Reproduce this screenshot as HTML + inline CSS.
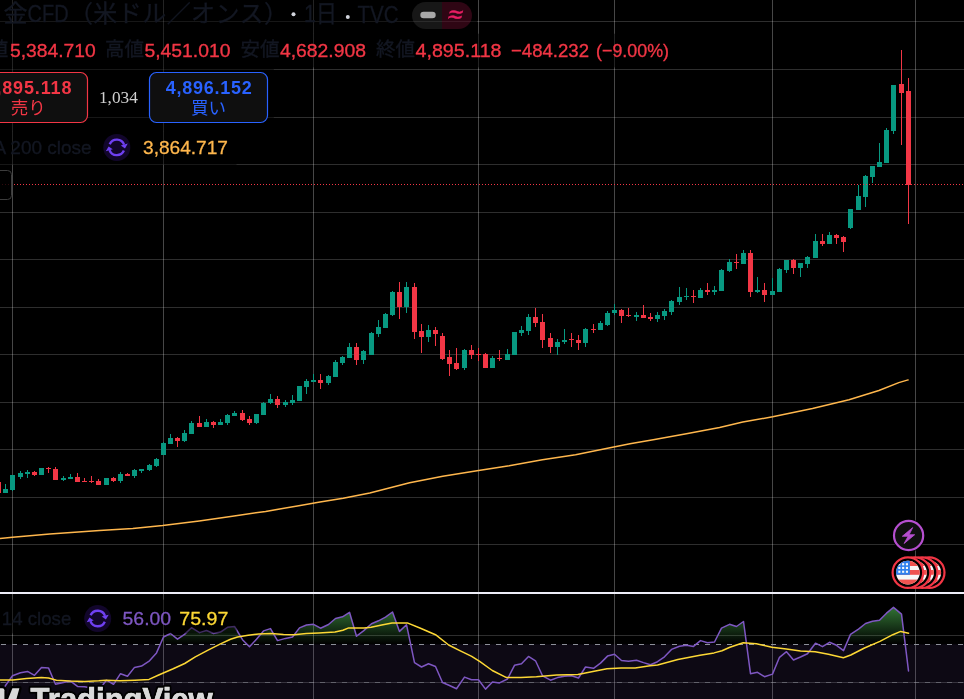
<!DOCTYPE html>
<html lang="ja"><head><meta charset="utf-8"><title>金CFD（米ドル／オンス） · 1日 · TVC — TradingView</title>
<style>
html,body{margin:0;padding:0;background:#000;}
body{width:964px;height:699px;overflow:hidden;position:relative;font-family:"Liberation Sans","Noto Sans CJK JP",sans-serif;}
svg{position:absolute;left:0;top:0;display:block;will-change:transform}
text{font-family:"Liberation Sans","Noto Sans CJK JP",sans-serif}
.cr{shape-rendering:crispEdges}
.lbl{fill:#131722}
.neg{fill:#f23645;stroke:#f23645;stroke-width:0.35}
.lbl{stroke:#131722;stroke-width:0.35}
</style></head><body>
<svg width="964" height="699" viewBox="0 0 964 699">
<defs>
<linearGradient id="ob" gradientUnits="userSpaceOnUse" x1="0" y1="587.7" x2="0" y2="644.3"><stop offset="0" stop-color="#4caf50" stop-opacity="1"/><stop offset="1" stop-color="#4caf50" stop-opacity="0"/></linearGradient>
<clipPath id="above70"><rect x="0" y="594" width="964" height="50.3"/></clipPath>
<clipPath id="rsipane"><rect x="0" y="594" width="964" height="105"/></clipPath>
<clipPath id="flagclip"><circle cx="0" cy="0" r="11.9"/></clipPath>
</defs>
<rect width="964" height="699" fill="#000"/>
<g class="cr">
<rect x="12" y="0" width="1" height="592" fill="rgba(255,255,255,0.28)"/>
<rect x="12" y="594" width="1" height="105" fill="rgba(255,255,255,0.28)"/>
<rect x="163" y="0" width="1" height="592" fill="rgba(255,255,255,0.28)"/>
<rect x="163" y="594" width="1" height="105" fill="rgba(255,255,255,0.28)"/>
<rect x="313" y="0" width="1" height="592" fill="rgba(255,255,255,0.28)"/>
<rect x="313" y="594" width="1" height="105" fill="rgba(255,255,255,0.28)"/>
<rect x="478" y="0" width="1" height="592" fill="rgba(255,255,255,0.28)"/>
<rect x="478" y="594" width="1" height="105" fill="rgba(255,255,255,0.28)"/>
<rect x="614" y="0" width="1" height="592" fill="rgba(255,255,255,0.28)"/>
<rect x="614" y="594" width="1" height="105" fill="rgba(255,255,255,0.28)"/>
<rect x="772" y="0" width="1" height="592" fill="rgba(255,255,255,0.28)"/>
<rect x="772" y="594" width="1" height="105" fill="rgba(255,255,255,0.28)"/>
<rect x="915" y="0" width="1" height="592" fill="rgba(255,255,255,0.28)"/>
<rect x="915" y="594" width="1" height="105" fill="rgba(255,255,255,0.28)"/>
<rect x="0" y="21" width="964" height="1" fill="rgba(255,255,255,0.18)"/>
<rect x="0" y="69" width="964" height="1" fill="rgba(255,255,255,0.18)"/>
<rect x="0" y="117" width="964" height="1" fill="rgba(255,255,255,0.18)"/>
<rect x="0" y="164" width="964" height="1" fill="rgba(255,255,255,0.18)"/>
<rect x="0" y="212" width="964" height="1" fill="rgba(255,255,255,0.18)"/>
<rect x="0" y="259" width="964" height="1" fill="rgba(255,255,255,0.18)"/>
<rect x="0" y="307" width="964" height="1" fill="rgba(255,255,255,0.18)"/>
<rect x="0" y="354" width="964" height="1" fill="rgba(255,255,255,0.18)"/>
<rect x="0" y="402" width="964" height="1" fill="rgba(255,255,255,0.18)"/>
<rect x="0" y="449" width="964" height="1" fill="rgba(255,255,255,0.18)"/>
<rect x="0" y="497" width="964" height="1" fill="rgba(255,255,255,0.18)"/>
<rect x="0" y="544" width="964" height="1" fill="rgba(255,255,255,0.18)"/>
<rect x="0" y="635" width="964" height="1" fill="rgba(255,255,255,0.18)"/>
<rect x="0" y="682" width="964" height="1" fill="rgba(255,255,255,0.18)"/>
</g>
<rect x="0" y="644.3" width="964" height="55" fill="rgba(126,87,194,0.1)"/>
<g clip-path="url(#above70)"><polygon points="-1.5,644.3 -1.5,700 5.5,685.5 12.5,675.8 20.5,672.7 27.5,671.4 34.5,675.3 41.5,667.4 48.5,667.9 55.5,684.3 63.5,682.5 70.5,681.1 77.5,686.4 84.5,686.8 91.5,688 98.5,690 102.3,685.5 106.5,680.2 113.5,684.3 120.5,673.7 127.5,676.2 134.5,667.4 141.5,666.1 149.5,660.8 156.5,652.9 163.5,637 170.5,633.5 177.5,639.2 184.5,634.4 191.5,627.7 199.5,632.6 206.5,630.5 213.5,633.5 220.5,632.1 227.5,627.3 234.5,626.5 242.5,639.7 249.5,646.7 256.5,639.2 263.5,630.9 270.5,628.6 277.5,640.6 285.5,638.4 292.5,637 299.5,627.9 306.5,625 313.5,624.3 320.5,628.2 328.5,624.5 335.5,618.5 342.5,616.8 349.5,612.3 356.5,636.2 363.5,630.9 371.5,623.8 378.5,620.8 385.5,617.1 392.5,612 399.5,631.4 406.5,624.7 414.5,662.6 421.5,667 428.5,663.8 435.5,666.5 442.5,682.5 449.5,685.5 456.5,688.7 464.5,677.1 471.5,679.7 478.5,679.7 485.5,689.1 492.5,682 499.5,682.9 507.5,679 514.5,665.3 521.5,663.8 528.5,656.4 535.5,660.8 542.5,675.8 550.5,680.2 557.5,677.6 564.5,676.2 571.5,675.8 578.5,678 585.5,667 593.5,668.3 600.5,663.1 607.5,656.1 614.5,654.3 621.5,660.5 628.5,661.2 636.5,660.3 643.5,662.6 650.5,664.7 657.5,661.7 664.5,656.8 671.5,649.4 679.5,646.2 686.5,645.3 693.5,646.4 700.5,640.6 707.5,642.7 714.5,642 721.5,628.2 729.5,624.3 736.5,626.5 743.5,621.5 750.5,673.7 757.5,672.3 764.5,676.7 772.5,674.1 779.5,657.3 786.5,651.7 793.5,660 800.5,657 807.5,653.8 815.5,643.2 822.5,646.7 829.5,642.3 836.5,645.3 843.5,650.6 850.5,634.4 858.5,629.1 865.5,623.5 872.5,621.2 879.5,620.3 886.5,613.2 893.5,607.4 901.5,614.1 908.5,670.9 908.5,644.3" fill="url(#ob)"/></g>
<polyline points="0,538.6 12.6,537.3 49.8,533.9 99.6,530.6 132.8,528.6 162.7,525.6 199.2,521 232.4,516.3 265.6,511.4 298.8,505.7 320,502.1 343.2,498.3 369.8,492.9 409.6,482.7 442.8,476.3 478.6,470.4 509.2,465.7 542.4,459.8 575.6,454.8 608.8,448.1 630,443.8 653.2,439.7 686.4,433.7 719.6,427.4 742.8,422.1 772.7,416.8 812.5,408.5 849,399.8 878.9,390.5 898.8,382.6 908.1,379.9" fill="none" stroke="#ffb74d" stroke-width="1.5" stroke-linejoin="round" stroke-linecap="round"/>
<g class="cr">
<rect x="-2" y="482" width="1" height="11" fill="#f23645"/>
<rect x="-4" y="482" width="5" height="11" fill="#f23645"/>
<rect x="5" y="484" width="1" height="9" fill="#089981"/>
<rect x="3" y="489" width="5" height="4" fill="#089981"/>
<rect x="12" y="475" width="1" height="16" fill="#089981"/>
<rect x="10" y="475" width="5" height="15" fill="#089981"/>
<rect x="20" y="471" width="1" height="8" fill="#089981"/>
<rect x="18" y="473" width="5" height="4" fill="#089981"/>
<rect x="27" y="470" width="1" height="8" fill="#089981"/>
<rect x="25" y="472" width="5" height="2" fill="#089981"/>
<rect x="34" y="471" width="1" height="5" fill="#f23645"/>
<rect x="32" y="472" width="5" height="3" fill="#f23645"/>
<rect x="41" y="468" width="1" height="7" fill="#089981"/>
<rect x="39" y="468" width="5" height="7" fill="#089981"/>
<rect x="48" y="467" width="1" height="6" fill="#f23645"/>
<rect x="46" y="468" width="5" height="1" fill="#f23645"/>
<rect x="55" y="467" width="1" height="13" fill="#f23645"/>
<rect x="53" y="469" width="5" height="11" fill="#f23645"/>
<rect x="63" y="476" width="1" height="5" fill="#089981"/>
<rect x="61" y="478" width="5" height="2" fill="#089981"/>
<rect x="70" y="474" width="1" height="5" fill="#089981"/>
<rect x="68" y="477" width="5" height="2" fill="#089981"/>
<rect x="77" y="473" width="1" height="9" fill="#f23645"/>
<rect x="75" y="477" width="5" height="5" fill="#f23645"/>
<rect x="84" y="478" width="1" height="4" fill="#f23645"/>
<rect x="82" y="481" width="5" height="1" fill="#f23645"/>
<rect x="91" y="476" width="1" height="7" fill="#f23645"/>
<rect x="89" y="481" width="5" height="1" fill="#f23645"/>
<rect x="98" y="479" width="1" height="6" fill="#f23645"/>
<rect x="96" y="481" width="5" height="4" fill="#f23645"/>
<rect x="106" y="478" width="1" height="7" fill="#089981"/>
<rect x="104" y="478" width="5" height="7" fill="#089981"/>
<rect x="113" y="477" width="1" height="5" fill="#f23645"/>
<rect x="111" y="478" width="5" height="3" fill="#f23645"/>
<rect x="120" y="472" width="1" height="11" fill="#089981"/>
<rect x="118" y="474" width="5" height="7" fill="#089981"/>
<rect x="127" y="473" width="1" height="3" fill="#f23645"/>
<rect x="125" y="474" width="5" height="2" fill="#f23645"/>
<rect x="134" y="469" width="1" height="9" fill="#089981"/>
<rect x="132" y="470" width="5" height="6" fill="#089981"/>
<rect x="141" y="469" width="1" height="4" fill="#089981"/>
<rect x="139" y="469" width="5" height="2" fill="#089981"/>
<rect x="149" y="464" width="1" height="7" fill="#089981"/>
<rect x="147" y="465" width="5" height="5" fill="#089981"/>
<rect x="156" y="458" width="1" height="9" fill="#089981"/>
<rect x="154" y="459" width="5" height="7" fill="#089981"/>
<rect x="163" y="442" width="1" height="13" fill="#089981"/>
<rect x="161" y="443" width="5" height="12" fill="#089981"/>
<rect x="170" y="434" width="1" height="10" fill="#089981"/>
<rect x="168" y="438" width="5" height="6" fill="#089981"/>
<rect x="177" y="437" width="1" height="10" fill="#f23645"/>
<rect x="175" y="438" width="5" height="3" fill="#f23645"/>
<rect x="184" y="430" width="1" height="12" fill="#089981"/>
<rect x="182" y="433" width="5" height="8" fill="#089981"/>
<rect x="191" y="421" width="1" height="13" fill="#089981"/>
<rect x="189" y="423" width="5" height="11" fill="#089981"/>
<rect x="199" y="416" width="1" height="11" fill="#f23645"/>
<rect x="197" y="423" width="5" height="4" fill="#f23645"/>
<rect x="206" y="419" width="1" height="8" fill="#089981"/>
<rect x="204" y="422" width="5" height="5" fill="#089981"/>
<rect x="213" y="421" width="1" height="7" fill="#f23645"/>
<rect x="211" y="422" width="5" height="3" fill="#f23645"/>
<rect x="220" y="419" width="1" height="6" fill="#089981"/>
<rect x="218" y="422" width="5" height="3" fill="#089981"/>
<rect x="227" y="414" width="1" height="11" fill="#089981"/>
<rect x="225" y="415" width="5" height="8" fill="#089981"/>
<rect x="234" y="411" width="1" height="5" fill="#089981"/>
<rect x="232" y="413" width="5" height="3" fill="#089981"/>
<rect x="242" y="410" width="1" height="11" fill="#f23645"/>
<rect x="240" y="413" width="5" height="7" fill="#f23645"/>
<rect x="249" y="416" width="1" height="9" fill="#f23645"/>
<rect x="247" y="419" width="5" height="4" fill="#f23645"/>
<rect x="256" y="414" width="1" height="10" fill="#089981"/>
<rect x="254" y="414" width="5" height="9" fill="#089981"/>
<rect x="263" y="402" width="1" height="13" fill="#089981"/>
<rect x="261" y="403" width="5" height="12" fill="#089981"/>
<rect x="270" y="394" width="1" height="10" fill="#089981"/>
<rect x="268" y="399" width="5" height="4" fill="#089981"/>
<rect x="277" y="396" width="1" height="12" fill="#f23645"/>
<rect x="275" y="399" width="5" height="6" fill="#f23645"/>
<rect x="285" y="400" width="1" height="7" fill="#089981"/>
<rect x="283" y="402" width="5" height="3" fill="#089981"/>
<rect x="292" y="395" width="1" height="10" fill="#089981"/>
<rect x="290" y="400" width="5" height="3" fill="#089981"/>
<rect x="299" y="386" width="1" height="15" fill="#089981"/>
<rect x="297" y="386" width="5" height="15" fill="#089981"/>
<rect x="306" y="379" width="1" height="15" fill="#089981"/>
<rect x="304" y="381" width="5" height="6" fill="#089981"/>
<rect x="313" y="374" width="1" height="8" fill="#089981"/>
<rect x="311" y="380" width="5" height="2" fill="#089981"/>
<rect x="320" y="374" width="1" height="15" fill="#f23645"/>
<rect x="318" y="380" width="5" height="3" fill="#f23645"/>
<rect x="328" y="375" width="1" height="10" fill="#089981"/>
<rect x="326" y="376" width="5" height="7" fill="#089981"/>
<rect x="335" y="360" width="1" height="17" fill="#089981"/>
<rect x="333" y="362" width="5" height="15" fill="#089981"/>
<rect x="342" y="356" width="1" height="9" fill="#089981"/>
<rect x="340" y="357" width="5" height="6" fill="#089981"/>
<rect x="349" y="343" width="1" height="15" fill="#089981"/>
<rect x="347" y="347" width="5" height="11" fill="#089981"/>
<rect x="356" y="343" width="1" height="22" fill="#f23645"/>
<rect x="354" y="347" width="5" height="13" fill="#f23645"/>
<rect x="363" y="350" width="1" height="14" fill="#089981"/>
<rect x="361" y="351" width="5" height="9" fill="#089981"/>
<rect x="371" y="332" width="1" height="23" fill="#089981"/>
<rect x="369" y="333" width="5" height="22" fill="#089981"/>
<rect x="378" y="320" width="1" height="17" fill="#089981"/>
<rect x="376" y="327" width="5" height="7" fill="#089981"/>
<rect x="385" y="313" width="1" height="15" fill="#089981"/>
<rect x="383" y="314" width="5" height="14" fill="#089981"/>
<rect x="392" y="291" width="1" height="25" fill="#089981"/>
<rect x="390" y="292" width="5" height="23" fill="#089981"/>
<rect x="399" y="282" width="1" height="37" fill="#f23645"/>
<rect x="397" y="292" width="5" height="15" fill="#f23645"/>
<rect x="406" y="282" width="1" height="31" fill="#089981"/>
<rect x="404" y="287" width="5" height="20" fill="#089981"/>
<rect x="414" y="283" width="1" height="56" fill="#f23645"/>
<rect x="412" y="287" width="5" height="45" fill="#f23645"/>
<rect x="421" y="324" width="1" height="29" fill="#f23645"/>
<rect x="419" y="331" width="5" height="6" fill="#f23645"/>
<rect x="428" y="325" width="1" height="17" fill="#089981"/>
<rect x="426" y="330" width="5" height="7" fill="#089981"/>
<rect x="435" y="327" width="1" height="19" fill="#f23645"/>
<rect x="433" y="330" width="5" height="4" fill="#f23645"/>
<rect x="442" y="333" width="1" height="27" fill="#f23645"/>
<rect x="440" y="336" width="5" height="23" fill="#f23645"/>
<rect x="449" y="350" width="1" height="26" fill="#f23645"/>
<rect x="447" y="357" width="5" height="7" fill="#f23645"/>
<rect x="456" y="348" width="1" height="22" fill="#f23645"/>
<rect x="454" y="363" width="5" height="6" fill="#f23645"/>
<rect x="464" y="349" width="1" height="21" fill="#089981"/>
<rect x="462" y="350" width="5" height="18" fill="#089981"/>
<rect x="471" y="345" width="1" height="14" fill="#f23645"/>
<rect x="469" y="350" width="5" height="5" fill="#f23645"/>
<rect x="478" y="348" width="1" height="13" fill="#f23645"/>
<rect x="476" y="354" width="5" height="1" fill="#f23645"/>
<rect x="485" y="353" width="1" height="15" fill="#f23645"/>
<rect x="483" y="354" width="5" height="14" fill="#f23645"/>
<rect x="492" y="356" width="1" height="12" fill="#089981"/>
<rect x="490" y="358" width="5" height="10" fill="#089981"/>
<rect x="499" y="350" width="1" height="11" fill="#f23645"/>
<rect x="497" y="358" width="5" height="1" fill="#f23645"/>
<rect x="507" y="349" width="1" height="11" fill="#089981"/>
<rect x="505" y="354" width="5" height="6" fill="#089981"/>
<rect x="514" y="332" width="1" height="23" fill="#089981"/>
<rect x="512" y="332" width="5" height="23" fill="#089981"/>
<rect x="521" y="326" width="1" height="10" fill="#089981"/>
<rect x="519" y="330" width="5" height="3" fill="#089981"/>
<rect x="528" y="314" width="1" height="21" fill="#089981"/>
<rect x="526" y="317" width="5" height="14" fill="#089981"/>
<rect x="535" y="308" width="1" height="19" fill="#f23645"/>
<rect x="533" y="317" width="5" height="6" fill="#f23645"/>
<rect x="542" y="314" width="1" height="34" fill="#f23645"/>
<rect x="540" y="322" width="5" height="18" fill="#f23645"/>
<rect x="550" y="333" width="1" height="20" fill="#f23645"/>
<rect x="548" y="338" width="5" height="9" fill="#f23645"/>
<rect x="557" y="339" width="1" height="16" fill="#089981"/>
<rect x="555" y="342" width="5" height="5" fill="#089981"/>
<rect x="564" y="329" width="1" height="15" fill="#089981"/>
<rect x="562" y="340" width="5" height="2" fill="#089981"/>
<rect x="571" y="333" width="1" height="14" fill="#f23645"/>
<rect x="569" y="339" width="5" height="1" fill="#f23645"/>
<rect x="578" y="335" width="1" height="15" fill="#f23645"/>
<rect x="576" y="340" width="5" height="3" fill="#f23645"/>
<rect x="585" y="328" width="1" height="19" fill="#089981"/>
<rect x="583" y="329" width="5" height="14" fill="#089981"/>
<rect x="593" y="324" width="1" height="9" fill="#f23645"/>
<rect x="591" y="329" width="5" height="1" fill="#f23645"/>
<rect x="600" y="321" width="1" height="9" fill="#089981"/>
<rect x="598" y="323" width="5" height="7" fill="#089981"/>
<rect x="607" y="311" width="1" height="15" fill="#089981"/>
<rect x="605" y="313" width="5" height="12" fill="#089981"/>
<rect x="614" y="304" width="1" height="11" fill="#089981"/>
<rect x="612" y="310" width="5" height="3" fill="#089981"/>
<rect x="621" y="309" width="1" height="14" fill="#f23645"/>
<rect x="619" y="310" width="5" height="6" fill="#f23645"/>
<rect x="628" y="308" width="1" height="9" fill="#f23645"/>
<rect x="626" y="315" width="5" height="1" fill="#f23645"/>
<rect x="636" y="312" width="1" height="9" fill="#089981"/>
<rect x="634" y="315" width="5" height="2" fill="#089981"/>
<rect x="643" y="305" width="1" height="13" fill="#f23645"/>
<rect x="641" y="315" width="5" height="3" fill="#f23645"/>
<rect x="650" y="313" width="1" height="8" fill="#f23645"/>
<rect x="648" y="317" width="5" height="2" fill="#f23645"/>
<rect x="657" y="312" width="1" height="10" fill="#089981"/>
<rect x="655" y="315" width="5" height="4" fill="#089981"/>
<rect x="664" y="309" width="1" height="11" fill="#089981"/>
<rect x="662" y="311" width="5" height="5" fill="#089981"/>
<rect x="671" y="300" width="1" height="15" fill="#089981"/>
<rect x="669" y="301" width="5" height="11" fill="#089981"/>
<rect x="679" y="287" width="1" height="18" fill="#089981"/>
<rect x="677" y="297" width="5" height="5" fill="#089981"/>
<rect x="686" y="288" width="1" height="12" fill="#089981"/>
<rect x="684" y="296" width="5" height="1" fill="#089981"/>
<rect x="693" y="290" width="1" height="13" fill="#f23645"/>
<rect x="691" y="296" width="5" height="1" fill="#f23645"/>
<rect x="700" y="288" width="1" height="10" fill="#089981"/>
<rect x="698" y="290" width="5" height="8" fill="#089981"/>
<rect x="707" y="283" width="1" height="12" fill="#f23645"/>
<rect x="705" y="290" width="5" height="2" fill="#f23645"/>
<rect x="714" y="286" width="1" height="9" fill="#089981"/>
<rect x="712" y="290" width="5" height="2" fill="#089981"/>
<rect x="721" y="269" width="1" height="22" fill="#089981"/>
<rect x="719" y="270" width="5" height="21" fill="#089981"/>
<rect x="729" y="259" width="1" height="13" fill="#089981"/>
<rect x="727" y="262" width="5" height="9" fill="#089981"/>
<rect x="736" y="254" width="1" height="15" fill="#f23645"/>
<rect x="734" y="262" width="5" height="1" fill="#f23645"/>
<rect x="743" y="250" width="1" height="14" fill="#089981"/>
<rect x="741" y="253" width="5" height="11" fill="#089981"/>
<rect x="750" y="250" width="1" height="47" fill="#f23645"/>
<rect x="748" y="253" width="5" height="39" fill="#f23645"/>
<rect x="757" y="277" width="1" height="16" fill="#089981"/>
<rect x="755" y="290" width="5" height="2" fill="#089981"/>
<rect x="764" y="283" width="1" height="19" fill="#f23645"/>
<rect x="762" y="290" width="5" height="5" fill="#f23645"/>
<rect x="772" y="278" width="1" height="17" fill="#089981"/>
<rect x="770" y="291" width="5" height="4" fill="#089981"/>
<rect x="779" y="268" width="1" height="24" fill="#089981"/>
<rect x="777" y="269" width="5" height="23" fill="#089981"/>
<rect x="786" y="260" width="1" height="13" fill="#089981"/>
<rect x="784" y="260" width="5" height="10" fill="#089981"/>
<rect x="793" y="259" width="1" height="15" fill="#f23645"/>
<rect x="791" y="260" width="5" height="8" fill="#f23645"/>
<rect x="800" y="263" width="1" height="14" fill="#089981"/>
<rect x="798" y="263" width="5" height="5" fill="#089981"/>
<rect x="807" y="256" width="1" height="12" fill="#089981"/>
<rect x="805" y="257" width="5" height="7" fill="#089981"/>
<rect x="815" y="234" width="1" height="24" fill="#089981"/>
<rect x="813" y="241" width="5" height="17" fill="#089981"/>
<rect x="822" y="234" width="1" height="12" fill="#f23645"/>
<rect x="820" y="241" width="5" height="3" fill="#f23645"/>
<rect x="829" y="232" width="1" height="12" fill="#089981"/>
<rect x="827" y="235" width="5" height="9" fill="#089981"/>
<rect x="836" y="234" width="1" height="10" fill="#f23645"/>
<rect x="834" y="235" width="5" height="3" fill="#f23645"/>
<rect x="843" y="236" width="1" height="16" fill="#f23645"/>
<rect x="841" y="237" width="5" height="5" fill="#f23645"/>
<rect x="850" y="209" width="1" height="20" fill="#089981"/>
<rect x="848" y="209" width="5" height="19" fill="#089981"/>
<rect x="858" y="185" width="1" height="25" fill="#089981"/>
<rect x="856" y="196" width="5" height="14" fill="#089981"/>
<rect x="865" y="175" width="1" height="32" fill="#089981"/>
<rect x="863" y="176" width="5" height="21" fill="#089981"/>
<rect x="872" y="166" width="1" height="17" fill="#089981"/>
<rect x="870" y="166" width="5" height="11" fill="#089981"/>
<rect x="879" y="143" width="1" height="24" fill="#089981"/>
<rect x="877" y="162" width="5" height="5" fill="#089981"/>
<rect x="886" y="128" width="1" height="35" fill="#089981"/>
<rect x="884" y="130" width="5" height="33" fill="#089981"/>
<rect x="893" y="85" width="1" height="49" fill="#089981"/>
<rect x="891" y="85" width="5" height="46" fill="#089981"/>
<rect x="901" y="50" width="1" height="95" fill="#f23645"/>
<rect x="899" y="84" width="5" height="9" fill="#f23645"/>
<rect x="908" y="78" width="1" height="146" fill="#f23645"/>
<rect x="906" y="91" width="5" height="94" fill="#f23645"/>
</g>
<g class="cr">
<line x1="2" y1="184.5" x2="964" y2="184.5" stroke="#f23645" stroke-width="1" stroke-dasharray="1 2"/>
</g>
<rect class="cr" x="0" y="592" width="964" height="2" fill="#eeeef8"/>
<g clip-path="url(#rsipane)">
<line class="cr" x1="0" y1="644.5" x2="964" y2="644.5" stroke="#8d9099" stroke-width="1" stroke-dasharray="5 6" stroke-dashoffset="-1"/>
<line class="cr" x1="0" y1="682.5" x2="964" y2="682.5" stroke="rgba(141,144,153,0.5)" stroke-width="1" stroke-dasharray="5 6" stroke-dashoffset="-1"/>
<polyline points="-1.5,700 5.5,685.5 12.5,675.8 20.5,672.7 27.5,671.4 34.5,675.3 41.5,667.4 48.5,667.9 55.5,684.3 63.5,682.5 70.5,681.1 77.5,686.4 84.5,686.8 91.5,688 98.5,690 102.3,685.5 106.5,680.2 113.5,684.3 120.5,673.7 127.5,676.2 134.5,667.4 141.5,666.1 149.5,660.8 156.5,652.9 163.5,637 170.5,633.5 177.5,639.2 184.5,634.4 191.5,627.7 199.5,632.6 206.5,630.5 213.5,633.5 220.5,632.1 227.5,627.3 234.5,626.5 242.5,639.7 249.5,646.7 256.5,639.2 263.5,630.9 270.5,628.6 277.5,640.6 285.5,638.4 292.5,637 299.5,627.9 306.5,625 313.5,624.3 320.5,628.2 328.5,624.5 335.5,618.5 342.5,616.8 349.5,612.3 356.5,636.2 363.5,630.9 371.5,623.8 378.5,620.8 385.5,617.1 392.5,612 399.5,631.4 406.5,624.7 414.5,662.6 421.5,667 428.5,663.8 435.5,666.5 442.5,682.5 449.5,685.5 456.5,688.7 464.5,677.1 471.5,679.7 478.5,679.7 485.5,689.1 492.5,682 499.5,682.9 507.5,679 514.5,665.3 521.5,663.8 528.5,656.4 535.5,660.8 542.5,675.8 550.5,680.2 557.5,677.6 564.5,676.2 571.5,675.8 578.5,678 585.5,667 593.5,668.3 600.5,663.1 607.5,656.1 614.5,654.3 621.5,660.5 628.5,661.2 636.5,660.3 643.5,662.6 650.5,664.7 657.5,661.7 664.5,656.8 671.5,649.4 679.5,646.2 686.5,645.3 693.5,646.4 700.5,640.6 707.5,642.7 714.5,642 721.5,628.2 729.5,624.3 736.5,626.5 743.5,621.5 750.5,673.7 757.5,672.3 764.5,676.7 772.5,674.1 779.5,657.3 786.5,651.7 793.5,660 800.5,657 807.5,653.8 815.5,643.2 822.5,646.7 829.5,642.3 836.5,645.3 843.5,650.6 850.5,634.4 858.5,629.1 865.5,623.5 872.5,621.2 879.5,620.3 886.5,613.2 893.5,607.4 901.5,614.1 908.5,670.9" fill="none" stroke="#7e57c2" stroke-width="1.5" stroke-linejoin="round" stroke-linecap="round"/>
<polyline points="0,679.9 12.9,679.9 26.5,678.5 41.4,677.6 48.5,678 56.4,680.2 69.7,681.1 84.7,681.5 98.8,680.8 105.8,680.2 120,680.8 135,680.2 149,679.4 158.7,675 173.2,668.8 184.7,663.5 195.3,656.8 207.6,650.3 220,644.1 230.5,639.2 237.6,637 248.2,635.3 258.8,633.9 271.1,633.5 283.5,634.4 294,634.7 306.4,633.5 318.7,633 335,632.1 342.9,630.3 348.7,627.9 364.1,627.9 371.1,627.3 381.7,625 392,622.9 407.3,622.9 420.5,628.2 435.5,634.7 448.7,645 459.3,650.3 471.7,656.4 480,661.7 492.3,670.5 506.5,677.6 520.9,677.6 536.4,676.7 556.7,675 577.9,674.4 592.9,671.4 607,668.8 621.1,667.9 635.2,667.9 650,665.8 657.6,664.9 677.9,659.6 700,655.2 714.1,652.9 722,650.8 729.9,647.3 743.2,642.7 756.4,643.7 771.9,647.3 786.4,648.9 800.5,651.1 815.2,651.7 828.4,654.3 843.4,657.7 850.8,655 864.5,648 879.9,641.4 892.8,634.7 900.7,631.4 908.6,633.2" fill="none" stroke="#fdd835" stroke-width="1.5" stroke-linejoin="round" stroke-linecap="round"/>
</g>
<g fill="rgba(0,0,0,0.5)">
<rect x="0" y="0" width="477" height="33.7"/>
<rect x="0" y="33.7" width="673" height="33.7"/>
<rect x="0" y="67.4" width="273.8" height="63.9"/>
<rect x="0" y="131.3" width="236.5" height="33.7"/>
<rect x="0" y="599.7" width="236.7" height="33.7"/>
</g>
<g font-size="24" fill="#131722" stroke="#131722" stroke-width="0.35">
<text x="3.5" y="22">金</text>
<text x="27.6" y="22" textLength="41" lengthAdjust="spacingAndGlyphs">CFD</text>
<text x="68.9" y="22" textLength="219" lengthAdjust="spacing">（米ドル／オンス）</text>
<text x="304" y="22" textLength="33" lengthAdjust="spacingAndGlyphs">1日</text>
<text x="357.5" y="22.5" textLength="41" lengthAdjust="spacingAndGlyphs">TVC</text>
</g>
<circle cx="293.5" cy="14.2" r="2" fill="#d1d4dc"/>
<circle cx="347.8" cy="17" r="2" fill="#d1d4dc"/>
<g>
<path d="M425.5 2 H442 V29 H425.5 A13.5 13.5 0 0 1 425.5 2 Z" fill="rgba(255,255,255,0.09)"/>
<path d="M442 2 H458.5 A13.5 13.5 0 0 1 458.5 29 H442 Z" fill="rgba(233,30,99,0.2)"/>
<rect x="420.3" y="11.8" width="15.4" height="6.5" rx="3.25" fill="#a9a9a9"/>
<text transform="translate(453.4,23.2) skewX(-14)" font-size="25.5" fill="#e91e63" stroke="#e91e63" stroke-width="0.5" text-anchor="middle">≈</text>
</g>
<g font-size="19" stroke-width="0.35">
<text x="8.3" y="56.3" font-size="19.5" class="lbl" text-anchor="end">始値</text>
<text x="10" y="56.6" class="neg" textLength="85.6" lengthAdjust="spacingAndGlyphs">5,384.710</text>
<text x="105" y="56.3" font-size="19.5" class="lbl">高値</text>
<text x="144.5" y="56.6" class="neg" textLength="86" lengthAdjust="spacingAndGlyphs">5,451.010</text>
<text x="240.5" y="56.3" font-size="19.5" class="lbl">安値</text>
<text x="280" y="56.6" class="neg" textLength="86" lengthAdjust="spacingAndGlyphs">4,682.908</text>
<text x="376" y="56.3" font-size="19.5" class="lbl">終値</text>
<text x="415.5" y="56.6" class="neg" textLength="86" lengthAdjust="spacingAndGlyphs">4,895.118</text>
<text x="511" y="56.6" class="neg" textLength="78" lengthAdjust="spacingAndGlyphs">−484.232</text>
<text x="596" y="56.6" class="neg" textLength="73" lengthAdjust="spacingAndGlyphs">(−9.00%)</text>
</g>
<rect x="-31.5" y="72.5" width="119" height="50" rx="7" fill="#0f0f0f" stroke="#f23645" stroke-width="1.2"/>
<text x="28.5" y="94" font-size="18" font-weight="bold" fill="#f23645" text-anchor="middle" textLength="86" lengthAdjust="spacing">4,895.118</text>
<text x="28.2" y="114" font-size="17.5" fill="#f23645" text-anchor="middle">売り</text>
<text x="118.4" y="103" font-size="17.3" fill="#d0d0d0" text-anchor="middle" style="font-family:'Liberation Serif',serif">1,034</text>
<rect x="149.5" y="72.5" width="118" height="50" rx="7" fill="#0f0f0f" stroke="#2962ff" stroke-width="1.2"/>
<text x="208.7" y="94" font-size="18" font-weight="bold" fill="#2962ff" text-anchor="middle" textLength="86" lengthAdjust="spacing">4,896.152</text>
<text x="208.5" y="114" font-size="17.5" fill="#2962ff" text-anchor="middle">買い</text>
<g font-size="19">
<text x="91.65" y="154" class="lbl" text-anchor="end">SMA 200 close</text>
<text x="143" y="154" fill="#ffb74d" stroke="#ffb74d" stroke-width="0.3" textLength="85" lengthAdjust="spacingAndGlyphs">3,864.717</text>
</g>
<g transform="translate(116.8,147.4)">
<circle r="13.5" fill="#12062b"/>
<g><path d="M-7.1 -3.2 A7.8 7.8 0 0 1 7.3 -2.7" fill="none" stroke="#6f40f2" stroke-width="2.4"/><path d="M4.0 -1.9 L11.0 -3.8 L8.2 1.0 Z" fill="#6f40f2"/></g>
<g transform="rotate(180)"><path d="M-7.1 -3.2 A7.8 7.8 0 0 1 7.3 -2.7" fill="none" stroke="#6f40f2" stroke-width="2.4"/><path d="M4.0 -1.9 L11.0 -3.8 L8.2 1.0 Z" fill="#6f40f2"/></g>
</g>
<rect x="-4.5" y="170.5" width="16" height="29" rx="4" fill="rgba(0,0,0,0.8)" stroke="#3c3c3c" stroke-width="1"/>
<g font-size="19">
<text x="71.3" y="625" class="lbl" text-anchor="end" textLength="105.8" lengthAdjust="spacingAndGlyphs">RSI 14 close</text>
<text x="122.6" y="625" fill="#7e57c2" stroke="#7e57c2" stroke-width="0.3" textLength="48.5" lengthAdjust="spacingAndGlyphs">56.00</text>
<text x="179.3" y="625" fill="#fdd835" stroke="#fdd835" stroke-width="0.3" textLength="49" lengthAdjust="spacingAndGlyphs">75.97</text>
</g>
<g transform="translate(97.7,618.5)">
<circle r="13.5" fill="#12062b"/>
<g><path d="M-7.1 -3.2 A7.8 7.8 0 0 1 7.3 -2.7" fill="none" stroke="#6f40f2" stroke-width="2.4"/><path d="M4.0 -1.9 L11.0 -3.8 L8.2 1.0 Z" fill="#6f40f2"/></g>
<g transform="rotate(180)"><path d="M-7.1 -3.2 A7.8 7.8 0 0 1 7.3 -2.7" fill="none" stroke="#6f40f2" stroke-width="2.4"/><path d="M4.0 -1.9 L11.0 -3.8 L8.2 1.0 Z" fill="#6f40f2"/></g>
</g>
<g transform="translate(908.6,535.5)">
<circle r="16.6" fill="#000"/>
<circle r="14.6" fill="#0f0f0f" stroke="#b64fd0" stroke-width="2.2"/>
<path d="M4.1 -7.9 L-6.3 0.8 L-0.5 0.8 L-4.5 8.0 L6.1 -0.8 L0.5 -0.8 Z" fill="#b64fd0" stroke="#b64fd0" stroke-width="0.8" stroke-linejoin="round"/>
</g>
<g transform="translate(929.1999999999999,572.6)">
<circle r="15.3" fill="#000" stroke="#f23645" stroke-width="2.2"/>
<g clip-path="url(#flagclip)">
<rect x="-13" y="-13" width="26" height="26" fill="#f7f7f7"/>
<rect x="-13" y="-13" width="26" height="6.4" fill="#ef5350"/>
<rect x="-13" y="-2.6" width="26" height="4.8" fill="#ef5350"/>
<rect x="-13" y="7.0" width="26" height="7" fill="#ef5350"/>
<rect x="-13" y="-13" width="15.0" height="15.2" fill="#2f80ed"/>
<rect x="-9.6" y="-9.4" width="2.1" height="2.1" fill="#f7f7f7"/>
<rect x="-5.8" y="-9.4" width="2.1" height="2.1" fill="#f7f7f7"/>
<rect x="-2.0" y="-9.4" width="2.1" height="2.1" fill="#f7f7f7"/>
<rect x="-9.6" y="-5.7" width="2.1" height="2.1" fill="#f7f7f7"/>
<rect x="-5.8" y="-5.7" width="2.1" height="2.1" fill="#f7f7f7"/>
<rect x="-2.0" y="-5.7" width="2.1" height="2.1" fill="#f7f7f7"/>
<rect x="-9.6" y="-1.9" width="2.1" height="2.1" fill="#f7f7f7"/>
<rect x="-5.8" y="-1.9" width="2.1" height="2.1" fill="#f7f7f7"/>
<rect x="-2.0" y="-1.9" width="2.1" height="2.1" fill="#f7f7f7"/>
</g></g>
<g transform="translate(922.1,572.6)">
<circle r="15.3" fill="#000" stroke="#f23645" stroke-width="2.2"/>
<g clip-path="url(#flagclip)">
<rect x="-13" y="-13" width="26" height="26" fill="#f7f7f7"/>
<rect x="-13" y="-13" width="26" height="6.4" fill="#ef5350"/>
<rect x="-13" y="-2.6" width="26" height="4.8" fill="#ef5350"/>
<rect x="-13" y="7.0" width="26" height="7" fill="#ef5350"/>
<rect x="-13" y="-13" width="15.0" height="15.2" fill="#2f80ed"/>
<rect x="-9.6" y="-9.4" width="2.1" height="2.1" fill="#f7f7f7"/>
<rect x="-5.8" y="-9.4" width="2.1" height="2.1" fill="#f7f7f7"/>
<rect x="-2.0" y="-9.4" width="2.1" height="2.1" fill="#f7f7f7"/>
<rect x="-9.6" y="-5.7" width="2.1" height="2.1" fill="#f7f7f7"/>
<rect x="-5.8" y="-5.7" width="2.1" height="2.1" fill="#f7f7f7"/>
<rect x="-2.0" y="-5.7" width="2.1" height="2.1" fill="#f7f7f7"/>
<rect x="-9.6" y="-1.9" width="2.1" height="2.1" fill="#f7f7f7"/>
<rect x="-5.8" y="-1.9" width="2.1" height="2.1" fill="#f7f7f7"/>
<rect x="-2.0" y="-1.9" width="2.1" height="2.1" fill="#f7f7f7"/>
</g></g>
<g transform="translate(915.0,572.6)">
<circle r="15.3" fill="#000" stroke="#f23645" stroke-width="2.2"/>
<g clip-path="url(#flagclip)">
<rect x="-13" y="-13" width="26" height="26" fill="#f7f7f7"/>
<rect x="-13" y="-13" width="26" height="6.4" fill="#ef5350"/>
<rect x="-13" y="-2.6" width="26" height="4.8" fill="#ef5350"/>
<rect x="-13" y="7.0" width="26" height="7" fill="#ef5350"/>
<rect x="-13" y="-13" width="15.0" height="15.2" fill="#2f80ed"/>
<rect x="-9.6" y="-9.4" width="2.1" height="2.1" fill="#f7f7f7"/>
<rect x="-5.8" y="-9.4" width="2.1" height="2.1" fill="#f7f7f7"/>
<rect x="-2.0" y="-9.4" width="2.1" height="2.1" fill="#f7f7f7"/>
<rect x="-9.6" y="-5.7" width="2.1" height="2.1" fill="#f7f7f7"/>
<rect x="-5.8" y="-5.7" width="2.1" height="2.1" fill="#f7f7f7"/>
<rect x="-2.0" y="-5.7" width="2.1" height="2.1" fill="#f7f7f7"/>
<rect x="-9.6" y="-1.9" width="2.1" height="2.1" fill="#f7f7f7"/>
<rect x="-5.8" y="-1.9" width="2.1" height="2.1" fill="#f7f7f7"/>
<rect x="-2.0" y="-1.9" width="2.1" height="2.1" fill="#f7f7f7"/>
</g></g>
<g transform="translate(907.9,572.6)">
<circle r="15.3" fill="#000" stroke="#f23645" stroke-width="2.2"/>
<g clip-path="url(#flagclip)">
<rect x="-13" y="-13" width="26" height="26" fill="#f7f7f7"/>
<rect x="-13" y="-13" width="26" height="6.4" fill="#ef5350"/>
<rect x="-13" y="-2.6" width="26" height="4.8" fill="#ef5350"/>
<rect x="-13" y="7.0" width="26" height="7" fill="#ef5350"/>
<rect x="-13" y="-13" width="15.0" height="15.2" fill="#2f80ed"/>
<rect x="-9.6" y="-9.4" width="2.1" height="2.1" fill="#f7f7f7"/>
<rect x="-5.8" y="-9.4" width="2.1" height="2.1" fill="#f7f7f7"/>
<rect x="-2.0" y="-9.4" width="2.1" height="2.1" fill="#f7f7f7"/>
<rect x="-9.6" y="-5.7" width="2.1" height="2.1" fill="#f7f7f7"/>
<rect x="-5.8" y="-5.7" width="2.1" height="2.1" fill="#f7f7f7"/>
<rect x="-2.0" y="-5.7" width="2.1" height="2.1" fill="#f7f7f7"/>
<rect x="-9.6" y="-1.9" width="2.1" height="2.1" fill="#f7f7f7"/>
<rect x="-5.8" y="-1.9" width="2.1" height="2.1" fill="#f7f7f7"/>
<rect x="-2.0" y="-1.9" width="2.1" height="2.1" fill="#f7f7f7"/>
</g></g>
<g fill="#d9d9d9" stroke="#000" stroke-width="4.5" paint-order="stroke" stroke-linejoin="round">
<path d="M-12 688.2 H2.4 Q4.4 688.2 4.4 690.2 V704 H-12 Z"/>
<path d="M12.4 688.2 H19.4 L15.1 704 H6.2 Z"/>
<text x="30.6" y="709.8" font-size="31" font-weight="bold" letter-spacing="0">TradingView</text>
</g>
<text x="30.6" y="709.8" font-size="31" font-weight="bold" letter-spacing="0" fill="#d9d9d9" stroke="#d9d9d9" stroke-width="0.7">TradingView</text>
</svg></body></html>
